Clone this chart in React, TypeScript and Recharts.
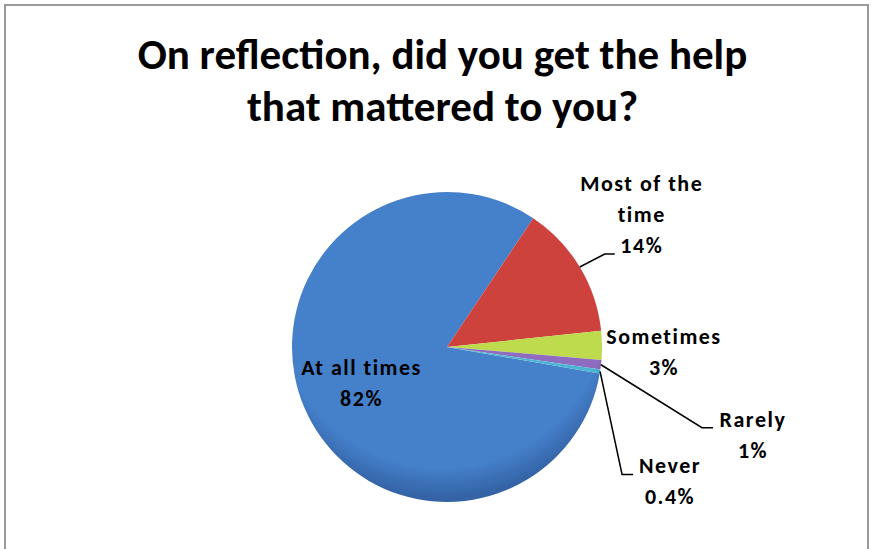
import React from 'react';
import { PieChart, Pie, Cell } from 'recharts';

// Survey answers, in the order Excel draws them (clockwise)
const CATEGORIES = ['At all times', 'Most of the time', 'Sometimes', 'Rarely', 'Never'];
const PERCENTS = [82, 14, 3, 1, 0.4];
const PERCENT_LABELS = ['82%', '14%', '3%', '1%', '0.4%'];
const LABEL_LINES = [['At all times'], ['Most of the', 'time'], ['Sometimes'], ['Rarely'], ['Never']];

const TITLE_LINES = ['On reflection, did you get the help', 'that mattered to you?'];

// Office 2007 palette, slightly brightened by the bevel
const COLORS = [
    { light: '#4580cb', dark: '#3464a6' },
    { light: '#cd423d', dark: '#a92d29' },
    { light: '#bedb4e', dark: '#94b42f' },
    { light: '#8e6cc0', dark: '#6d4f98' },
    { light: '#4cb6d2', dark: '#2c8ca6' }
];

// where each label sits, relative to the point on the rim at the slice's middle
const LABEL_LAYOUT = [
    { inside: true, r: 0.6, tx: 0, ty: -16 },
    { tx: 62, ty: -83, ex: 25, ey: -13, endX: 35 },
    { tx: 62, ty: -9 },
    { tx: 152, ty: 55, ex: 101, ey: 63, endX: 112 },
    { tx: 70, ty: 94, ex: 22, ey: 103, endX: 33 }
];

const FONT = 'Carlito, Lato, "Open Sans", sans-serif';
const RADIAN = Math.PI / 180;
const LINE_GAP = 31;

const data = CATEGORIES.map((name, i) => ({ name, value: PERCENTS[i] }));

const CX = 442;
const CY = 342;
const R = 155;

const renderLabel = (props: any) => {
    const { cx, cy, midAngle, outerRadius, index } = props;
    const layout: any = LABEL_LAYOUT[index];
    const cos = Math.cos(-midAngle * RADIAN);
    const sin = Math.sin(-midAngle * RADIAN);
    const rr = layout.inside ? outerRadius * layout.r : outerRadius;
    const ax = cx + rr * cos;
    const ay = cy + rr * sin;
    const lines = [...LABEL_LINES[index], PERCENT_LABELS[index]];
    const tx = ax + layout.tx;
    const ty = ay + layout.ty;
    return (
        <g key={`lbl-${index}`}>
            {layout.ex !== undefined && (
                <polyline
                    points={`${ax},${ay} ${ax + layout.ex},${ay + layout.ey} ${ax + layout.endX},${ay + layout.ey}`}
                    fill="none"
                    stroke="#000"
                    strokeWidth={1.5}
                />
            )}
            {lines.map((t, i) => (
                <text
                    key={i}
                    x={tx}
                    y={ty + i * LINE_GAP}
                    textAnchor="middle"
                    dominantBaseline="central"
                    fontFamily={FONT}
                    fontWeight="bold"
                    fontSize={22}
                    letterSpacing={1.5}
                    fill="#000"
                >
                    {t}
                </text>
            ))}
        </g>
    );
};

export default function App() {
    return (
        <div style={{ position: 'absolute', left: 0, top: 0, width: 878, height: 549, overflow: 'hidden', background: '#fff' }}>
            <div
                style={{
                    position: 'absolute',
                    left: 4,
                    top: 4,
                    width: 861,
                    height: 600,
                    border: '2px solid #999'
                }}
            />
            <div
                style={{
                    position: 'absolute',
                    left: 0,
                    top: 29,
                    width: 885,
                    textAlign: 'center',
                    fontFamily: FONT,
                    fontWeight: 'bold',
                    fontSize: 43,
                    lineHeight: '52px',
                    color: '#000'
                }}
            >
                {TITLE_LINES.map((t) => (
                    <div key={t}>{t}</div>
                ))}
            </div>
            <div style={{ position: 'absolute', left: 0, top: 0 }}>
                <PieChart width={878} height={549}>
                    <defs>
                        {COLORS.map((c, i) => (
                            <radialGradient
                                key={i}
                                id={`slice-${i}`}
                                gradientUnits="userSpaceOnUse"
                                cx={CX}
                                cy={CY - 40}
                                r={R + 40}
                            >
                                <stop offset="0%" stopColor={c.light} />
                                <stop offset="85%" stopColor={c.light} />
                                <stop offset="100%" stopColor={c.dark} />
                            </radialGradient>
                        ))}
                    </defs>
                    <Pie
                        data={data}
                        dataKey="value"
                        nameKey="name"
                        cx={CX}
                        cy={CY}
                        outerRadius={R}
                        startAngle={-9.8}
                        endAngle={-369.8}
                        stroke="none"
                        label={renderLabel}
                        labelLine={false}
                        isAnimationActive={false}
                    >
                        {data.map((d, i) => (
                            <Cell key={d.name} fill={`url(#slice-${i})`} />
                        ))}
                    </Pie>
                </PieChart>
            </div>
        </div>
    );
}
